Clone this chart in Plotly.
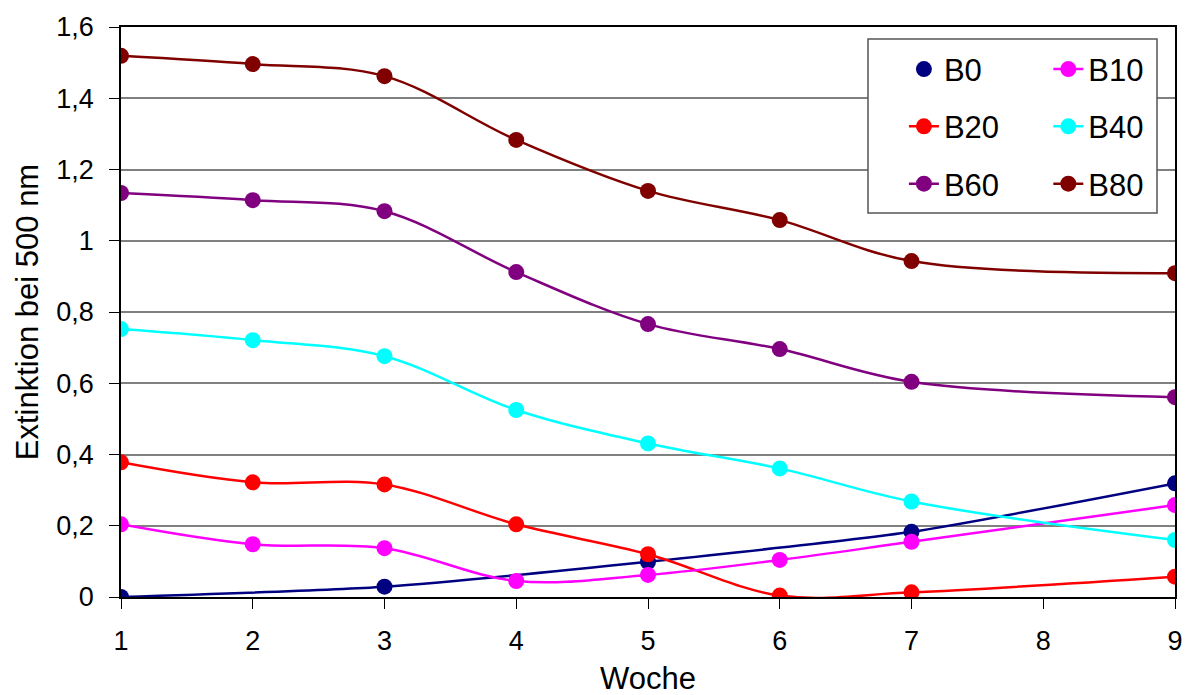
import plotly.graph_objects as go

weeks = [1, 2, 3, 4, 5, 6, 7, 9]
b0_weeks = [1, 3, 5, 7, 9]
b0 = [0.0, 0.029, 0.099, 0.183, 0.319]
b10 = [0.204, 0.148, 0.137, 0.045, 0.062, 0.104, 0.155, 0.258]
b20 = [0.378, 0.322, 0.316, 0.204, 0.120, 0.004, 0.013, 0.057]
b40 = [0.752, 0.721, 0.676, 0.525, 0.431, 0.361, 0.268, 0.160]
b60 = [1.134, 1.114, 1.083, 0.912, 0.766, 0.696, 0.604, 0.561]
b80 = [1.519, 1.496, 1.462, 1.283, 1.140, 1.058, 0.943, 0.909]

x_ticks = [1, 2, 3, 4, 5, 6, 7, 8, 9]
y_ticks = [0, 0.2, 0.4, 0.6, 0.8, 1.0, 1.2, 1.4, 1.6]
y_ticktext = ["0", "0,2", "0,4", "0,6", "0,8", "1", "1,2", "1,4", "1,6"]

FONT = "Liberation Sans, Arial, sans-serif"

fig = go.Figure()

# B0 trend line (no legend entry)
fig.add_trace(go.Scatter(x=b0_weeks, y=b0, mode="lines", line=dict(color="#000080", width=2.5, shape="spline", smoothing=0.6),
                         showlegend=False, hoverinfo="skip"))

series = [
    ("B0", b0_weeks, b0, "#000080", "markers", "legend"),
    ("B20", weeks, b20, "#FF0000", "lines+markers", "legend"),
    ("B60", weeks, b60, "#800080", "lines+markers", "legend"),
    ("B10", weeks, b10, "#FF00FF", "lines+markers", "legend2"),
    ("B40", weeks, b40, "#00FFFF", "lines+markers", "legend2"),
    ("B80", weeks, b80, "#800000", "lines+markers", "legend2"),
]
for name, xs, ys, col, mode, lg in series:
    fig.add_trace(go.Scatter(x=xs, y=ys, name=name, mode=mode,
                             line=dict(color=col, width=2.5, shape="spline", smoothing=1),
                             marker=dict(color=col, size=16),
                             legend=lg, legendgroup=name))

# legend box
fig.add_shape(type="rect", xref="paper", yref="paper",
              x0=(868 - 121) / 1054, x1=(1157 - 121) / 1054,
              y0=(597 - 213) / 570, y1=(597 - 39) / 570,
              line=dict(color="#555555", width=1.5), fillcolor="white", layer="above")

# x axis title
fig.add_annotation(text="Woche", xref="paper", yref="paper", x=0.5, y=(597 - 659) / 570,
                   xanchor="center", yanchor="top", showarrow=False,
                   font=dict(family=FONT, size=31, color="black"))

legend_common = dict(font=dict(family=FONT, size=31, color="black"), bgcolor="rgba(0,0,0,0)",
                     borderwidth=0, tracegroupgap=14, xanchor="left", yanchor="top",
                     traceorder="grouped", itemsizing="trace")

fig.update_layout(
    width=1191, height=695,
    margin=dict(l=121, r=16, t=27, b=98),
    paper_bgcolor="white", plot_bgcolor="white",
    font=dict(family=FONT, color="black"),
    legend=dict(x=0.7428, y=0.973, **legend_common),
    legend2=dict(x=0.8798, y=0.973, **legend_common),
    xaxis=dict(range=[1, 9], tickvals=x_ticks, ticktext=[str(v) for v in x_ticks],
               showgrid=False, zeroline=False, showline=True, linecolor="black", linewidth=1.5,
               mirror=True, ticks="outside", ticklen=10, tickcolor="black", tickwidth=1.2,
               tickfont=dict(size=27), ticklabelstandoff=9, automargin=False),
    yaxis=dict(range=[0, 1.6], tickvals=y_ticks, ticktext=y_ticktext,
               showgrid=True, gridcolor="#808080", gridwidth=1.5, zeroline=False,
               showline=True, linecolor="black", linewidth=1.5, mirror=True,
               ticks="outside", ticklen=10, tickcolor="black", tickwidth=1.2,
               tickfont=dict(size=27), ticklabelstandoff=10, automargin=False,
               title=dict(text="Extinktion bei 500 nm", font=dict(size=31), standoff=8)),
)

fig.write_html("out.html")
